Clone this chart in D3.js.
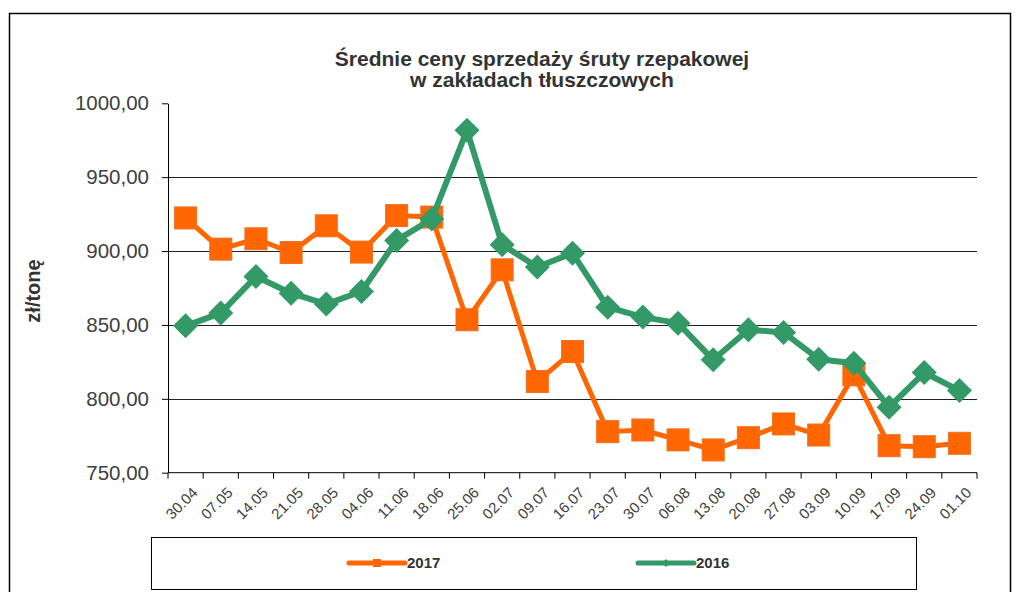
<!DOCTYPE html>
<html>
<head>
<meta charset="utf-8">
<script src="https://cdn.jsdelivr.net/npm/d3@7"></script>
<style>
  body { margin: 0; background: #fff; }
  text { font-family: "Liberation Sans", Arial, sans-serif; }
</style>
</head>
<body>
<div id="chart"></div>
<script>
const weeks = ["30.04", "07.05", "14.05", "21.05", "28.05", "04.06", "11.06", "18.06",
  "25.06", "02.07", "09.07", "16.07", "23.07", "30.07", "06.08", "13.08", "20.08",
  "27.08", "03.09", "10.09", "17.09", "24.09", "01.10"];

const prices2017 = [922.4, 901.3, 908.3, 899.0, 917.1, 899.3, 924.0, 923.0, 853.5, 887.3,
  811.7, 832.0, 777.8, 778.9, 772.2, 765.4, 773.7, 783.0, 775.5, 816.2, 768.3, 767.6, 769.9];

const prices2016 = [849.4, 858.0, 882.8, 871.5, 864.1, 872.6, 907.2, 921.7, 981.7, 904.3,
  889.2, 898.6, 862.0, 855.3, 851.2, 826.4, 846.7, 844.9, 826.8, 824.1, 794.3, 817.8, 805.6];

const yTicks = [750, 800, 850, 900, 950, 1000];
const seriesNames = ["2017", "2016"];

const width = 1021, height = 592;
const plot = { left: 168, right: 977, top: 103.3, bottom: 472.7 };
const colors = { "2017": "#ff6600", "2016": "#339966" };
const textColor = "#404040";

const svg = d3.select("#chart").append("svg")
  .attr("width", width)
  .attr("height", height);

// outer chart frame
svg.append("rect")
  .attr("x", 9.5).attr("y", 13.5)
  .attr("width", 1001).attr("height", 600)
  .attr("fill", "none").attr("stroke", "#000").attr("stroke-width", 1.5);

// title
const title = svg.append("text")
  .attr("text-anchor", "middle")
  .style("font-size", "21px")
  .style("font-weight", "bold")
  .attr("fill", "#333");
title.append("tspan").attr("x", 542).attr("y", 66).text("Średnie ceny sprzedaży śruty rzepakowej");
title.append("tspan").attr("x", 542).attr("y", 87).text("w zakładach tłuszczowych");

const x = d3.scaleBand().domain(weeks).range([plot.left, plot.right]).padding(0);
const y = d3.scaleLinear().domain([750, 1000]).range([plot.bottom, plot.top]);
const cx = (d) => x(d) + x.bandwidth() / 2;

// gridlines
svg.append("g").attr("class", "grid")
  .selectAll("line")
  .data(yTicks.filter((t) => t > 750 && t < 1000))
  .join("line")
  .attr("x1", plot.left).attr("x2", plot.right)
  .attr("y1", (d) => Math.round(y(d)) + 0.5).attr("y2", (d) => Math.round(y(d)) + 0.5)
  .attr("stroke", "#222").attr("stroke-width", 1);

// y axis
const yAxis = svg.append("g")
  .attr("transform", `translate(${plot.left}, 0)`)
  .call(d3.axisLeft(y).tickValues(yTicks).tickSize(6).tickSizeOuter(0).tickPadding(13)
    .tickFormat((d) => d3.format(".2f")(d).replace(".", ",")));
yAxis.select(".domain").attr("stroke", "#000");
yAxis.selectAll(".tick line").attr("stroke", "#000");
yAxis.selectAll(".tick text")
  .attr("fill", textColor)
  .style("font-size", "20.5px")
  .style("font-family", "'Liberation Sans', Arial, sans-serif");

// y axis title
svg.append("text")
  .attr("transform", "translate(40, 291) rotate(-90)")
  .attr("text-anchor", "middle")
  .style("font-size", "20px")
  .style("font-weight", "bold")
  .attr("fill", "#333")
  .text("zł/tonę");

// x axis: line, ticks at category boundaries, rotated labels
const xAxis = svg.append("g").attr("class", "x-axis");
xAxis.append("line")
  .attr("x1", plot.left).attr("x2", plot.right)
  .attr("y1", plot.bottom).attr("y2", plot.bottom)
  .attr("stroke", "#000");
xAxis.selectAll(".xtick")
  .data(weeks.map((w) => x(w)).concat([plot.right]))
  .join("line")
  .attr("class", "xtick")
  .attr("x1", (d) => d).attr("x2", (d) => d)
  .attr("y1", plot.bottom).attr("y2", plot.bottom + 6)
  .attr("stroke", "#000");
xAxis.selectAll(".xlabel")
  .data(weeks)
  .join("text")
  .attr("class", "xlabel")
  .attr("transform", (d) => `translate(${cx(d) + 5}, ${plot.bottom + 13}) rotate(-45)`)
  .attr("text-anchor", "end")
  .attr("dy", "0.75em")
  .style("font-size", "15px")
  .attr("fill", textColor)
  .text((d) => d);

const line = d3.line().x((d) => cx(d.week)).y((d) => y(d.value));

const series = [
  { name: "2017", values: weeks.map((w, i) => ({ week: w, value: prices2017[i] })) },
  { name: "2016", values: weeks.map((w, i) => ({ week: w, value: prices2016[i] })) }
];

const diamond = (s) => `M0,${-s} L${s},0 L0,${s} L${-s},0 Z`;

series.forEach((s) => {
  const g = svg.append("g").attr("class", "series");
  g.append("path")
    .attr("d", line(s.values))
    .attr("fill", "none")
    .attr("stroke", colors[s.name])
    .attr("stroke-width", s.name === "2017" ? 5 : 6)
    .attr("stroke-linejoin", "round");
  if (s.name === "2017") {
    g.selectAll("rect")
      .data(s.values)
      .join("rect")
      .attr("x", (d) => cx(d.week) - 11)
      .attr("y", (d) => y(d.value) - 11)
      .attr("width", 22).attr("height", 22)
      .attr("fill", colors[s.name])
      .attr("stroke", "#f07020").attr("stroke-width", 1);
  } else {
    g.selectAll("path.marker")
      .data(s.values)
      .join("path")
      .attr("class", "marker")
      .attr("transform", (d) => `translate(${cx(d.week)}, ${y(d.value)})`)
      .attr("d", diamond(12.5))
      .attr("fill", colors[s.name]);
  }
});

// legend
svg.append("rect")
  .attr("x", 151.5).attr("y", 537.5)
  .attr("width", 765).attr("height", 52)
  .attr("fill", "none").attr("stroke", "#000").attr("stroke-width", 1);

const legendPos = { "2017": 349, "2016": 638 };
seriesNames.forEach((name) => {
  const lg = svg.append("g").attr("transform", `translate(${legendPos[name]}, 563)`);
  lg.append("line")
    .attr("x1", 0).attr("x2", 56).attr("y1", 0).attr("y2", 0)
    .attr("stroke", colors[name]).attr("stroke-width", 5).attr("stroke-linecap", "round");
  if (name === "2017") {
    lg.append("rect").attr("x", 24).attr("y", -4).attr("width", 8).attr("height", 8)
      .attr("fill", colors[name]);
  } else {
    lg.append("path").attr("transform", "translate(28, 0)").attr("d", diamond(4))
      .attr("fill", colors[name]);
  }
  lg.append("text")
    .attr("x", 58).attr("y", 0).attr("dy", "0.35em")
    .style("font-size", "15px").style("font-weight", "bold")
    .attr("fill", "#333")
    .text(name);
});
</script>
</body>
</html>
